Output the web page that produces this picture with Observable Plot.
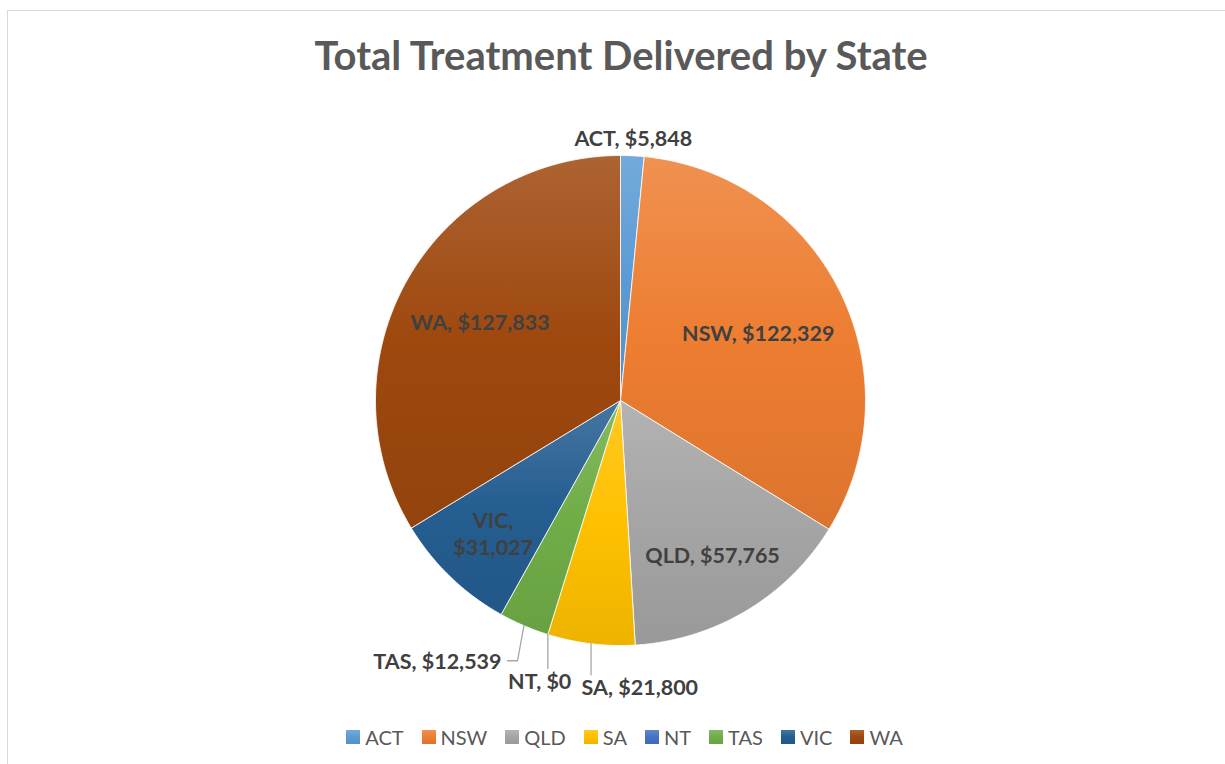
<!DOCTYPE html>
<html>
<head>
<meta charset="utf-8">
<script src="https://cdn.jsdelivr.net/npm/d3@7"></script>
<script src="https://cdn.jsdelivr.net/npm/@observablehq/plot@0.6"></script>
<style>
  html, body { margin:0; padding:0; background:#fff; width:1225px; height:764px; overflow:hidden; }
  #frame { position:absolute; left:7px; top:10px; width:1300px; height:900px; border:1.5px solid #d9d9d9; box-sizing:border-box; }
  #chart { position:absolute; left:0; top:0; }
  #title { position:absolute; left:0; top:35px; width:1242px; text-align:center; font: bold 40px/40px Lato, sans-serif; color:#595959; white-space:nowrap; }
  #legend { position:absolute; left:0; top:727px; width:1249px; display:flex; justify-content:center; align-items:center; font: 20px/20px Lato, sans-serif; color:#595959; }
  .item { display:flex; align-items:center; margin:0 9px; }
  .sw { width:14px; height:14px; margin-right:5px; }
</style>
</head>
<body>
<div id="frame"></div>
<svg width="0" height="0" style="position:absolute"><defs id="defs"></defs></svg>
<div id="chart"></div>
<div id="title"></div>
<div id="legend"></div>
<script>
// ---------- data ----------
const states  = ["ACT", "NSW", "QLD", "SA", "NT", "TAS", "VIC", "WA"];
const amounts = [5848, 122329, 57765, 21800, 0, 12539, 31027, 127833];
const colors  = ["#5B9BD5", "#ED7D31", "#A5A5A5", "#FFC000", "#4472C4", "#70AD47", "#255E91", "#9E480E"];
const title   = "Total Treatment Delivered by State";

// ---------- layout ----------
const W = 1225, H = 764, CX = 620, CY = 400, R = 245;
const LABEL_FONT = 21.5, LINE_H = 1.24;
const fmt = d3.format(",");

// gradients & filter
const defs = d3.select("#defs");
const light = c => d3.interpolateRgb(c, "#fff")(0.15);
const dark = c => d3.interpolateRgb(c, "#000")(0.07);
states.forEach((s, i) => {
  const g = defs.append("linearGradient").attr("id", "grad-" + s)
    .attr("x1", 0).attr("y1", 0).attr("x2", 0).attr("y2", 1);
  g.append("stop").attr("offset", "0%").attr("stop-color", light(colors[i]));
  g.append("stop").attr("offset", "50%").attr("stop-color", colors[i]);
  g.append("stop").attr("offset", "100%").attr("stop-color", dark(colors[i]));
});
defs.append("filter").attr("id", "soft").attr("x", "-10%").attr("y", "-10%")
  .attr("width", "120%").attr("height", "120%")
  .append("feGaussianBlur").attr("stdDeviation", 3);

// pie geometry (unit radius, angle clockwise from 12 o'clock)
const arcs = d3.pie().sort(null).value(d => d)(amounts);
const step = Math.PI / 360;
const slicePts = arcs.map(a => {
  const pts = [{x: 0, y: 0}];
  const n = Math.max(2, Math.ceil((a.endAngle - a.startAngle) / step));
  for (let k = 0; k <= n; k++) {
    const t = a.startAngle + (a.endAngle - a.startAngle) * k / n;
    pts.push({x: Math.sin(t), y: Math.cos(t)});
  }
  pts.push({x: 0, y: 0});
  return pts;
});
const circle = d3.range(0, 721).map(k => ({x: Math.sin(k * step), y: Math.cos(k * step)}));

// label layout (pixels relative to centre, y down)
const ctx = document.createElement("canvas").getContext("2d");
ctx.font = `bold ${LABEL_FONT}px Lato`;
const measure = s => ctx.measureText(s).width;
const capH = LABEL_FONT * 0.7165;

const items = arcs.map((a, i) => {
  const mid = (a.startAngle + a.endAngle) / 2;
  const ux = Math.sin(mid), uy = -Math.cos(mid);
  const one = `${states[i]}, $${fmt(amounts[i])}`;
  const two = [`${states[i]},`, `$${fmt(amounts[i])}`];
  const arcLen = (a.endAngle - a.startAngle) * 0.75 * R;
  const w1 = measure(one), w2 = Math.max(...two.map(measure));
  let mode, text, w, hh;
  if (w1 <= arcLen) { mode = "in"; text = one; w = w1; hh = capH / 2; }
  else if (w2 <= arcLen) { mode = "in"; text = two.join("\n"); w = w2; hh = (capH + LINE_H * LABEL_FONT) / 2; }
  else { mode = "out"; text = one; w = w1; hh = capH / 2; }
  const it = {i, mid, ux, uy, phi: mid, text, w, hh, mode};
  if (mode === "in") {
    // push outward along the mid-angle until the far corner sits inside the rim
    let lo = 0, hi = R;
    for (let k = 0; k < 40; k++) {
      const t = (lo + hi) / 2;
      const d = Math.hypot(Math.abs(ux) * t + w / 2, Math.abs(uy) * t + hh);
      if (d > R - 18) hi = t; else lo = t;
    }
    it.cx = ux * lo; it.cy = uy * lo;
  }
  return it;
});

const outs = items.filter(d => d.mode === "out");
const PADX = 10, PADY = 4;
const place = d => {
  const sx = Math.sin(d.phi), sy = -Math.cos(d.phi);
  const ext = Math.abs(sx) * d.w / 2 + Math.abs(sy) * d.hh;
  const r = R + d.gap + ext;
  d.cx = sx * r; d.cy = sy * r;
};
const overlaps = (a, b) =>
  (a.w / 2 + b.w / 2 + PADX) - Math.abs(a.cx - b.cx) > 0 &&
  (a.hh + b.hh + PADY) - Math.abs(a.cy - b.cy) > 0;
// labels sit just outside the rim; crowded ones move further out
outs.forEach(d => { d.gap = 8; place(d); });
const crowded = outs.map(a => outs.some(b => b !== a && overlaps(a, b)));
outs.forEach((d, k) => { if (crowded[k]) { d.gap = 30; place(d); } });

// slide crowded labels around the ring until they no longer overlap
for (let iter = 0; iter < 3000; iter++) {
  let any = false;
  for (let p = 0; p < outs.length; p++) for (let q = p + 1; q < outs.length; q++) {
    const a = outs[p], b = outs[q];
    if (overlaps(a, b)) {
      any = true;
      const dir = b.phi >= a.phi ? 1 : -1;
      a.phi -= dir * 0.002; b.phi += dir * 0.002;
      place(a); place(b);
    }
  }
  if (!any) break;
}

// leader lines
const leaderPts = [];
outs.forEach(d => {
  const ex = d.ux * R, ey = d.uy * R;
  const x0 = d.cx - d.w / 2, x1 = d.cx + d.w / 2, y0 = d.cy - d.hh, y1 = d.cy + d.hh;
  const dxb = Math.max(x0 - ex, 0, ex - x1), dyb = Math.max(y0 - ey, 0, ey - y1);
  if (Math.hypot(dxb, dyb) <= 13) return;
  let pts;
  if (ex >= x0 - 6 && ex <= x1 + 6) {
    pts = [[ex, ey], [ex, d.cy > ey ? y0 - 4 : y1 + 4]];
  } else if (ex > x1) {
    pts = [[ex, ey], [x1 + 16, d.cy], [x1 + 6, d.cy]];
  } else {
    pts = [[ex, ey], [x0 - 16, d.cy], [x0 - 6, d.cy]];
  }
  pts.forEach(([px, py]) => leaderPts.push({id: d.i, x: px / R, y: -py / R}));
});

const labels = items.map(d => ({text: d.text, x: d.cx / R, y: -d.cy / R}));

// ---------- chart ----------
const marks = [
  Plot.line(circle, {x: "x", y: "y", fill: "#000", fillOpacity: 0.22, stroke: "none", dx: 1, dy: 3, ariaLabel: "pie-shadow"}),
  ...arcs.filter(a => a.endAngle > a.startAngle).map(a =>
    Plot.line(slicePts[a.index], {x: "x", y: "y", fill: `url(#grad-${states[a.index]})`,
      stroke: "#fff", strokeWidth: 1, strokeOpacity: 0.8, strokeLinejoin: "round"})),
  Plot.line(leaderPts, {x: "x", y: "y", z: "id", stroke: "#a6a6a6", strokeWidth: 1.3}),
  Plot.text(labels, {x: "x", y: "y", text: "text", fontSize: LABEL_FONT, fontWeight: "bold",
    fill: "#404040", lineHeight: LINE_H, lineAnchor: "middle", textAnchor: "middle"})
];

const svg = Plot.plot({
  width: W, height: H, margin: 0,
  x: {domain: [-CX / R, (W - CX) / R], axis: null},
  y: {domain: [-(H - CY) / R, CY / R], axis: null},
  style: {fontFamily: "Lato, sans-serif", background: "transparent", overflow: "visible"},
  marks
});
d3.select(svg).selectAll('g[aria-label="pie-shadow"]').attr("filter", "url(#soft)");
document.getElementById("chart").appendChild(svg);

document.getElementById("title").textContent = title;
const legend = d3.select("#legend");
states.forEach((s, i) => {
  const it = legend.append("div").attr("class", "item");
  it.append("div").attr("class", "sw")
    .style("background", `linear-gradient(to bottom, ${light(colors[i])}, ${colors[i]} 50%, ${dark(colors[i])})`);
  it.append("span").text(s);
});
</script>
</body>
</html>
